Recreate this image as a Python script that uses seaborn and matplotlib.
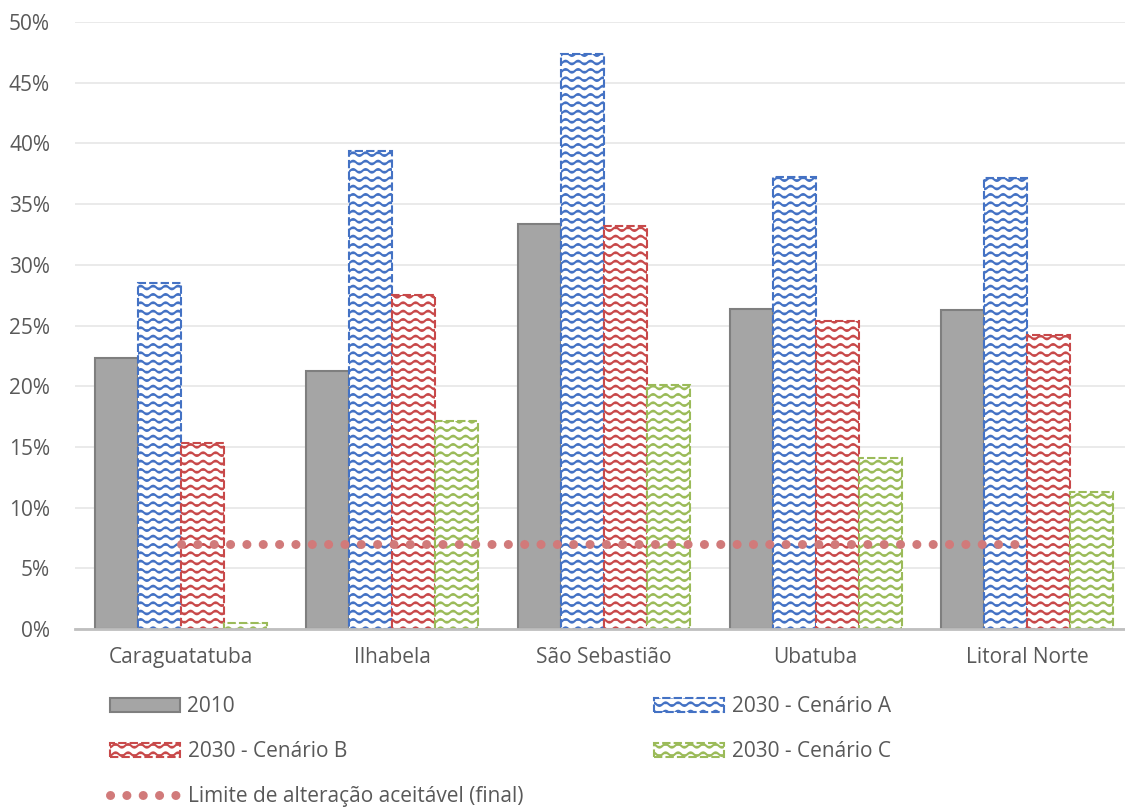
import warnings
import numpy as np
import pandas as pd
import matplotlib
matplotlib.use("Agg")
import matplotlib.pyplot as plt
import matplotlib.patches as mpatches
import matplotlib.lines as mlines
from matplotlib import hatch as mhatch
from matplotlib.path import Path
from matplotlib.ticker import FuncFormatter
import seaborn as sns

warnings.filterwarnings("ignore")

# Data (percent)
municipios = ["Caraguatatuba", "Ilhabela", "São Sebastião", "Ubatuba", "Litoral Norte"]
series = ["2010", "2030 - Cenário A", "2030 - Cenário B", "2030 - Cenário C"]
v2010 = [22.3, 21.25, 33.4, 26.4, 26.3]
cen_a = [28.5, 39.4, 47.4, 37.2, 37.15]
cen_b = [15.3, 27.5, 33.2, 25.4, 24.2]
cen_c = [0.5, 17.1, 20.1, 14.1, 11.3]
limite = [7.0, 7.0, 7.0, 7.0, 7.0]
limite_label = "Limite de alteração aceitável (final)"

cores = {"2010": "#a5a5a5", "2030 - Cenário A": "#4472c4",
         "2030 - Cenário B": "#c8494a", "2030 - Cenário C": "#9bbb59"}
cor_limite = "#d17a7a"


# wavy hatch pattern ("~")
class WaveHatch(mhatch.HatchPatternBase):
    def __init__(self, hatch, density):
        self.num_lines = int(hatch.count("~") * density)
        self.steps = 96
        self.num_vertices = self.num_lines * (self.steps + 1)

    def set_vertices_and_codes(self, vertices, codes):
        t = np.linspace(0, 1, self.steps + 1)
        n = self.steps + 1
        for i in range(self.num_lines):
            y0 = (i + 0.5) / self.num_lines
            vertices[i * n:(i + 1) * n, 0] = t
            vertices[i * n:(i + 1) * n, 1] = y0 + 0.018 * np.sin(2 * np.pi * 8 * t)
            codes[i * n:(i + 1) * n] = Path.LINETO
            codes[i * n] = Path.MOVETO


mhatch._hatch_types.append(WaveHatch)

df = pd.DataFrame({
    "Município": municipios * 4,
    "Série": np.repeat(series, len(municipios)),
    "Valor": v2010 + cen_a + cen_b + cen_c,
})

sns.set_style("white")
plt.rcParams["font.family"] = ["Open Sans", "DejaVu Sans"]
plt.rcParams["hatch.linewidth"] = 1.5

fig = plt.figure(figsize=(11.25, 8.07), dpi=100)
ax = fig.add_axes([75 / 1125, 1 - 629 / 807, 1058 / 1125, 607 / 807])

sns.barplot(data=df, x="Município", y="Valor", hue="Série", hue_order=series,
            palette=cores, width=0.813, legend=False, ax=ax)

# style bars: solid gray for 2010, wavy hatch for the scenarios
for container, nome in zip(ax.containers, series):
    for bar in container:
        if nome == "2010":
            bar.set_facecolor(cores[nome])
            bar.set_edgecolor("#7f7f7f")
            bar.set_linewidth(1.5)
        else:
            bar.set_facecolor("white")
            bar.set_edgecolor(cores[nome])
            bar.set_hatch("~~")
            bar.set_linestyle((0, (4, 1.5)))
            bar.set_linewidth(1.5)

estilo_limite = dict(linewidth=6.5, linestyle=(0, (0.01, 1.8)), dash_capstyle="round")

n_antes = len(ax.lines)
sns.pointplot(x=municipios, y=limite, color=cor_limite, markers="", ax=ax)
for linha in ax.lines[n_antes:]:
    if len(linha.get_xdata()) == len(municipios):
        linha.set(**estilo_limite)
        linha.set_zorder(5)

ax.set_ylim(0, 50)
ax.set_xlim(-0.5, 4.5)
ax.set_yticks(np.arange(0, 51, 5))
ax.yaxis.set_major_formatter(FuncFormatter(lambda v, p: f"{v:.0f}%"))
ax.grid(axis="y", color="#e6e6e6", linewidth=1.2)
ax.set_axisbelow(True)
for s in ["top", "right", "left"]:
    ax.spines[s].set_visible(False)
ax.spines["bottom"].set_color("#bfbfbf")
ax.spines["bottom"].set_linewidth(2)
ax.set_xlabel("")
ax.set_ylabel("")
ax.tick_params(axis="both", length=0, labelsize=15, labelcolor="#595959")
ax.tick_params(axis="x", pad=13)
ax.tick_params(axis="y", pad=18)

# legend
handles = [
    mpatches.Patch(facecolor=cores["2010"], edgecolor="#7f7f7f", linewidth=1.5),
    mpatches.Patch(facecolor="white", edgecolor=cores["2030 - Cenário B"], hatch="~~",
                   linestyle=(0, (4, 1.5)), linewidth=1.5),
    mlines.Line2D([], [], color=cor_limite, **estilo_limite),
    mpatches.Patch(facecolor="white", edgecolor=cores["2030 - Cenário A"], hatch="~~",
                   linestyle=(0, (4, 1.5)), linewidth=1.5),
    mpatches.Patch(facecolor="white", edgecolor=cores["2030 - Cenário C"], hatch="~~",
                   linestyle=(0, (4, 1.5)), linewidth=1.5),
]
labels = ["2010", "2030 - Cenário B", limite_label, "2030 - Cenário A", "2030 - Cenário C"]
leg = fig.legend(handles, labels, ncol=2, loc="upper left",
                 bbox_to_anchor=(110 / 1125, 1 - 696 / 807), frameon=False,
                 borderpad=0, borderaxespad=0,
                 fontsize=15, handlelength=3.37, handleheight=0.68, handletextpad=0.35,
                 labelspacing=1.15, columnspacing=6.3, labelcolor="#595959")

fig.savefig("out.png", dpi=100)
